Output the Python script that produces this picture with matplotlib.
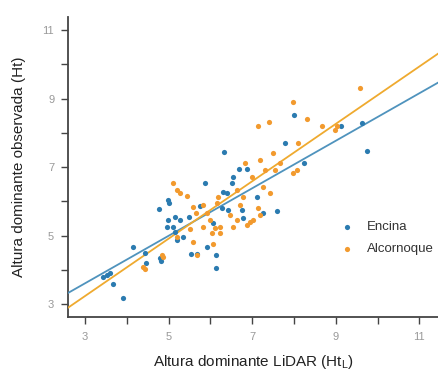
#!/usr/bin/env python3

import numpy as np
import matplotlib
matplotlib.use('Agg')
import matplotlib.pyplot as plt
from matplotlib.ticker import MultipleLocator


HEX_BLUE = '#2b7bb0'
HEX_ORANGE = '#f29a2e'
LINE_BLUE = '#4f93bd'
LINE_ORANGE = '#efaa2f'

# Encina: LiDAR height (x) vs observed height (y)
encina_x = [3.43, 3.53, 3.60, 3.67, 3.91, 4.15, 4.44, 4.46, 4.82, 4.78,
            4.77, 4.99, 5.01, 4.99, 5.15, 5.27, 5.49, 4.96, 5.10, 5.15,
            5.34, 5.20, 5.87, 5.75, 5.54, 5.68, 5.92, 6.13, 6.13, 6.06,
            6.28, 6.42, 6.76, 6.78, 6.30, 6.40, 7.11, 7.59, 6.54, 6.52,
            6.68, 6.88, 6.33, 8.24, 7.78, 8.00, 9.12, 9.63, 9.75, 7.26]
encina_y = [3.80, 3.86, 3.92, 3.59, 3.19, 4.67, 4.50, 4.21, 4.27, 4.35,
            5.78, 6.04, 5.96, 5.46, 5.55, 5.46, 5.55, 5.26, 5.26, 5.11,
            4.97, 4.88, 6.54, 5.87, 4.47, 4.47, 4.67, 4.44, 4.06, 5.37,
            5.81, 5.75, 5.75, 5.52, 6.28, 6.25, 6.13, 5.72, 6.71, 6.54,
            6.95, 6.95, 7.44, 7.12, 7.71, 8.52, 8.20, 8.29, 7.47, 5.66]

# Alcornoque
alcornoque_x = [4.39, 4.44, 4.84, 4.87, 5.11, 5.20, 5.27, 5.44, 5.58, 5.66,
                5.92, 5.51, 5.82, 5.20, 5.58, 5.68, 5.99, 6.11, 6.23, 6.04,
                6.23, 6.06, 6.18, 6.16, 5.82, 6.64, 6.78, 6.71, 6.47, 6.64,
                6.55, 6.88, 6.95, 7.02, 7.14, 7.19, 7.26, 7.43, 7.00, 7.30,
                7.55, 7.98, 8.07, 6.83, 7.19, 7.50, 7.67, 8.10, 7.14, 7.40,
                7.98, 8.31, 8.67, 9.03, 8.98, 9.58]
alcornoque_y = [4.09, 4.03, 4.44, 4.38, 6.54, 6.33, 6.25, 6.16, 5.84, 5.66,
                5.66, 5.20, 5.26, 4.96, 4.82, 4.44, 5.46, 5.23, 5.26, 5.08,
                5.08, 4.76, 6.13, 5.96, 5.90, 6.33, 6.13, 5.90, 5.61, 5.46,
                5.26, 5.32, 5.40, 5.46, 5.81, 5.61, 6.42, 6.25, 6.71, 6.92,
                6.92, 6.83, 6.92, 7.12, 7.21, 7.41, 7.12, 7.71, 8.20, 8.32,
                8.90, 8.41, 8.20, 8.20, 8.08, 9.31]

# fitted lines (intercept, slope)
encina_fit = (1.535, 0.693)
alcornoque_fit = (0.732, 0.837)

x_lim = (2.59, 11.47)
y_lim = (2.63, 11.38)


def main():
    plt.rcParams['font.family'] = ['Liberation Sans', 'DejaVu Sans']
    fig = plt.figure(figsize=(4.39, 3.72), dpi=100)
    ax = fig.add_axes([0.155, 0.148, 0.845, 0.806])

    xs = np.array(x_lim)
    ax.plot(xs, encina_fit[0] + encina_fit[1] * xs, color=LINE_BLUE, lw=1.3, zorder=3)
    ax.plot(xs, alcornoque_fit[0] + alcornoque_fit[1] * xs, color=LINE_ORANGE, lw=1.3, zorder=3)

    ax.scatter(encina_x, encina_y, s=14, c=HEX_BLUE, label='Encina', zorder=4, linewidths=0)
    ax.scatter(alcornoque_x, alcornoque_y, s=14, c=HEX_ORANGE, label='Alcornoque', zorder=4, linewidths=0)

    ax.set_xlim(*x_lim)
    ax.set_ylim(*y_lim)
    ax.xaxis.set_minor_locator(MultipleLocator(1))
    ax.yaxis.set_minor_locator(MultipleLocator(1))
    ax.set_xticks([3, 5, 7, 9, 11])
    ax.set_yticks([3, 5, 7, 9, 11])

    for side in ('top', 'right'):
        ax.spines[side].set_visible(False)
    for side in ('left', 'bottom'):
        ax.spines[side].set_color('#444444')
        ax.spines[side].set_linewidth(1.3)

    ax.tick_params(which='both', direction='out', color='#444444', width=1.0, length=5,
                   labelsize=8, labelcolor='#999999')
    ax.tick_params(axis='x', pad=6)
    ax.tick_params(axis='y', pad=5)

    ax.set_xlabel('Altura dominante LiDAR (Ht$_\\mathregular{L}$)', fontsize=11, color='#222222', labelpad=8)
    ax.set_ylabel('Altura dominante observada (Ht)', fontsize=11, color='#222222', labelpad=12)

    ax.legend(loc='upper left', bbox_to_anchor=(0.685, 0.36), frameon=False, fontsize=9.5,
              handletextpad=0.5, labelspacing=0.75, markerscale=1.0, labelcolor='#333333')

    fig.savefig('out.png', dpi=100)


if __name__ == '__main__':
    main()
